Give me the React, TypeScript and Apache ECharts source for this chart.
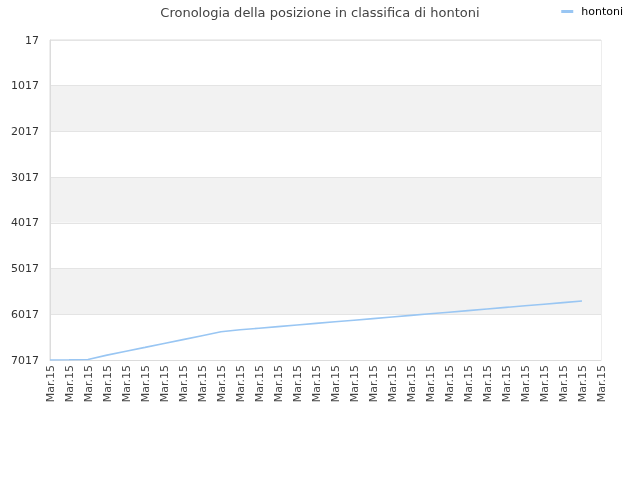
import { useEffect, useRef } from 'react'
import * as echarts from 'echarts'

const TITLE = 'Cronologia della posizione in classifica di hontoni'
const SERIES_NAME = 'hontoni'

// 30 x-axis labels, all the same day
const dates = Array.from({ length: 30 }, () => 'Mar.15')

// rank (lower = better), one per label, last label empty
const ranks: (number | null)[] = [
  7017, 7012, 7005, 6910, 6825, 6741, 6656, 6571, 6485, 6400,
  6356, 6321, 6286, 6251, 6216, 6181, 6146, 6111, 6076, 6041,
  6006, 5971, 5936, 5901, 5866, 5831, 5796, 5761, 5726, null,
]

const yMin = 17
const yMax = 7017
const yStep = 1000

const FONT = 'DejaVu Sans'

export default function App() {
  const hostRef = useRef<HTMLDivElement | null>(null)

  useEffect(() => {
    const host = hostRef.current
    if (!host) return
    const chart = echarts.init(host, undefined, { renderer: 'svg' })

    chart.setOption({
      animation: false,
      textStyle: { fontFamily: FONT },
      title: {
        text: TITLE,
        left: 'center',
        top: 0,
        padding: [4, 5, 4, 5],
        textStyle: { fontFamily: FONT, fontSize: 13, fontWeight: 'normal', color: '#444', lineHeight: 16 },
      },
      legend: {
        right: 12,
        top: 0,
        padding: [6, 5, 6, 5],
        itemWidth: 12,
        itemHeight: 3,
        icon: 'rect',
        textStyle: { fontFamily: FONT, fontSize: 11, color: '#000', padding: [0, 0, 0, 3] },
        data: [SERIES_NAME],
      },
      grid: {
        left: 50,
        right: 39,
        top: 40,
        bottom: 120,
        show: true,
        borderColor: '#dcdcdc',
        borderWidth: 1,
      },
      xAxis: {
        type: 'category',
        data: dates,
        boundaryGap: false,
        axisLine: { show: true, lineStyle: { color: '#dcdcdc' } },
        axisTick: { show: false },
        axisLabel: {
          interval: 0,
          rotate: 90,
          fontFamily: FONT,
          fontSize: 11,
          color: '#444',
          margin: 5,
        },
        splitLine: { show: false },
      },
      yAxis: {
        type: 'value',
        inverse: true,
        min: yMin,
        max: yMax,
        interval: yStep,
        axisLine: { show: true, lineStyle: { color: '#dcdcdc' } },
        axisTick: { show: false },
        axisLabel: {
          fontFamily: FONT,
          fontSize: 11,
          color: '#333',
          margin: 11,
          formatter: (v: number) => String(v),
        },
        splitLine: { show: true, lineStyle: { color: '#e4e4e4' } },
        splitArea: { show: true, areaStyle: { color: ['#ffffff', '#f2f2f2'] } },
      },
      series: [
        {
          name: SERIES_NAME,
          type: 'line',
          data: ranks,
          showSymbol: false,
          symbol: 'none',
          lineStyle: { width: 1.6, color: '#99c6f3' },
          itemStyle: { color: '#99c6f3' },
        },
      ],
    })

    return () => {
      chart.dispose()
    }
  }, [])

  return <div ref={hostRef} style={{ position: 'fixed', left: 0, top: 0, width: 640, height: 480 }} />
}
